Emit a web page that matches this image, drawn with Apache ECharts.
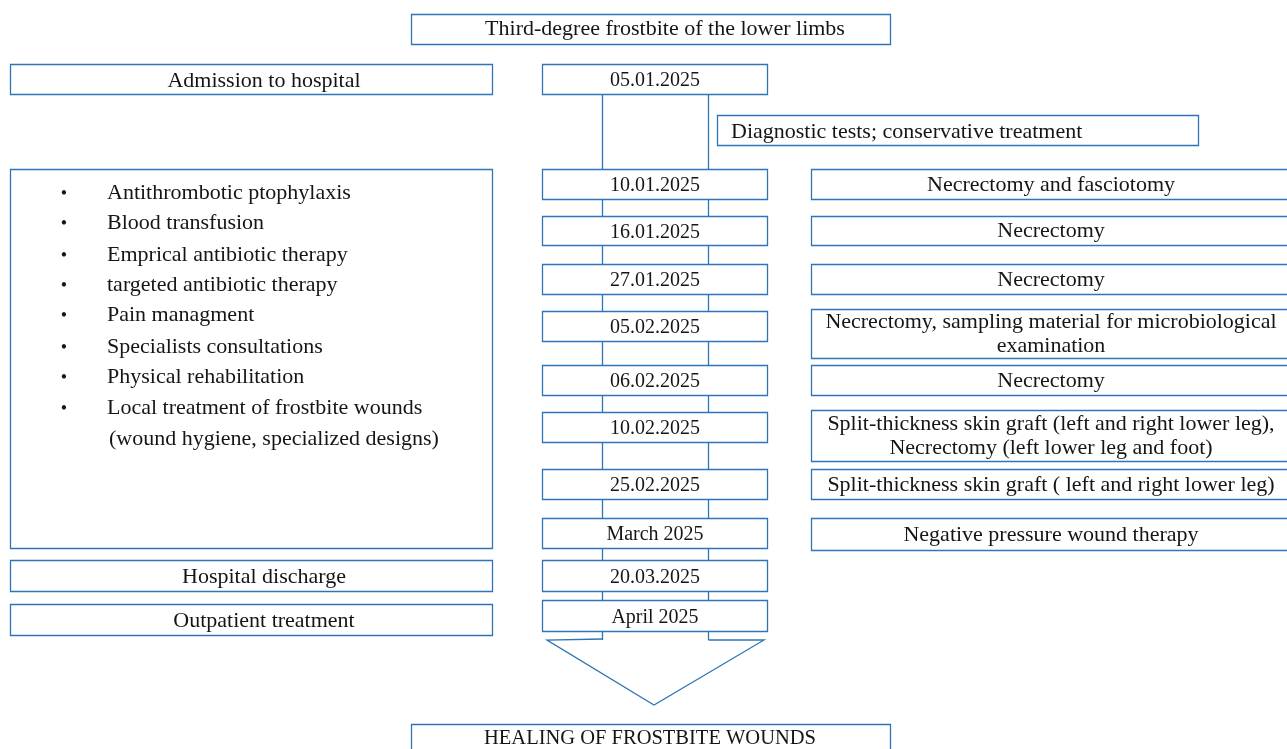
<!DOCTYPE html>
<html lang="en">
<head>
    <meta charset="utf-8">
    <title>Frostbite treatment timeline</title>
    <style>
        html,body,#main{
            height: 100%;
            width: 100%;
            padding: 0;
            margin: 0;
            background: #fff;
        }
    </style>
</head>
<body>
    <div id="main"></div>
    <script src="https://cdn.jsdelivr.net/npm/echarts@6/dist/echarts.min.js"></script>
    <script>
        // texts of the chart
        var title = 'Third-degree frostbite of the lower limbs';
        var outcome = 'HEALING OF FROSTBITE WOUNDS';
        var dates = ['05.01.2025', '10.01.2025', '16.01.2025', '27.01.2025', '05.02.2025',
            '06.02.2025', '10.02.2025', '25.02.2025', 'March 2025', '20.03.2025', 'April 2025'];
        var procedures = ['', 'Necrectomy and fasciotomy', 'Necrectomy', 'Necrectomy',
            'Necrectomy, sampling material for microbiological\nexamination', 'Necrectomy',
            'Split-thickness skin graft (left and right lower leg),\nNecrectomy (left lower leg and foot)',
            'Split-thickness skin graft ( left and right lower leg)', 'Negative pressure wound therapy', '', ''];
        var diagnostic = 'Diagnostic tests; conservative treatment';
        var stages = ['Admission to hospital', 'Hospital discharge', 'Outpatient treatment'];
        var treatments = ['Antithrombotic ptophylaxis', 'Blood transfusion', 'Emprical antibiotic therapy',
            'targeted antibiotic therapy', 'Pain managment', 'Specialists consultations',
            'Physical rehabilitation', 'Local treatment of frostbite wounds'];
        var treatmentNote = '(wound hygiene, specialized designs)';

        // layout (pixels): [top, bottom] of each row
        var dateRows = [[64, 94], [169, 199], [216, 245], [264, 294], [311, 341], [365, 395],
            [412, 442], [469, 499], [518, 548], [560, 591], [600, 631]];
        var procRows = [null, [169, 199], [216, 245], [264, 294], [309, 358], [365, 395],
            [410, 461], [469, 499], [518, 550], null, null];
        var stageRows = [[64, 94], [560, 591], [604, 635]];
        var bulletY = [191, 221, 253, 283, 313, 345, 375, 406];

        var blue = '#2e75b6';
        var family = '"Liberation Serif", serif';
        var font = '22px ' + family;
        var dateFont = '20px ' + family;
        var dy = 2; // text baseline nudge
        var els = [];

        function box(x1, y1, x2, y2) {
            els.push({
                type: 'rect',
                shape: { x: x1 + 0.5, y: y1 + 0.5, width: x2 - x1, height: y2 - y1 },
                style: { fill: '#fff', stroke: blue, lineWidth: 1.3 },
                z: 2
            });
        }
        function label(txt, x, y, align, f) {
            els.push({
                type: 'text',
                style: {
                    text: txt, x: x, y: y + dy, font: f || font, fill: '#151515',
                    align: align || 'center', verticalAlign: 'middle',
                    textAlign: align || 'center', textVerticalAlign: 'middle',
                    lineHeight: 24
                },
                z: 3
            });
        }
        function line(points) {
            els.push({
                type: 'polyline',
                shape: { points: points },
                style: { stroke: blue, lineWidth: 1.3, fill: null },
                z: 1
            });
        }

        // title and outcome
        box(411, 14, 890, 44);
        label(title, 665, 27);
        box(411, 724, 890, 760);
        label(outcome, 650, 737, 'center', '20.5px ' + family);

        // connectors of the central column
        var lx = 602.5, rx = 708.5;
        line([[lx, 94], [lx, 640]]);
        line([[rx, 94], [rx, 640]]);
        // arrow head
        line([[lx, 639], [547, 640], [654, 705], [764, 640], [rx, 640]]);

        // dates and procedures
        dates.forEach(function (d, i) {
            var r = dateRows[i];
            box(542, r[0], 767, r[1]);
            label(d, 655, (r[0] + r[1]) / 2, 'center', dateFont);
            if (procedures[i]) {
                var p = procRows[i];
                box(811, p[0], 1295, p[1]);
                label(procedures[i], 1051, (p[0] + p[1]) / 2 - 1);
            }
        });

        box(717, 115, 1198, 145);
        label(diagnostic, 731, 130, 'left');

        // left column
        stages.forEach(function (s, i) {
            var r = stageRows[i];
            box(10, r[0], 492, r[1]);
            label(s, 264, (r[0] + r[1]) / 2);
        });
        box(10, 169, 492, 548);
        treatments.forEach(function (t, i) {
            label('\u2022', 64, bulletY[i] + 1, 'center', '18px ' + family);
            label(t, 107, bulletY[i], 'left');
        });
        label(treatmentNote, 109, 437, 'left');

        var chart = echarts.init(document.getElementById('main'));
        chart.setOption({
            animation: false,
            graphic: { elements: els }
        });
    </script>
</body>
</html>
